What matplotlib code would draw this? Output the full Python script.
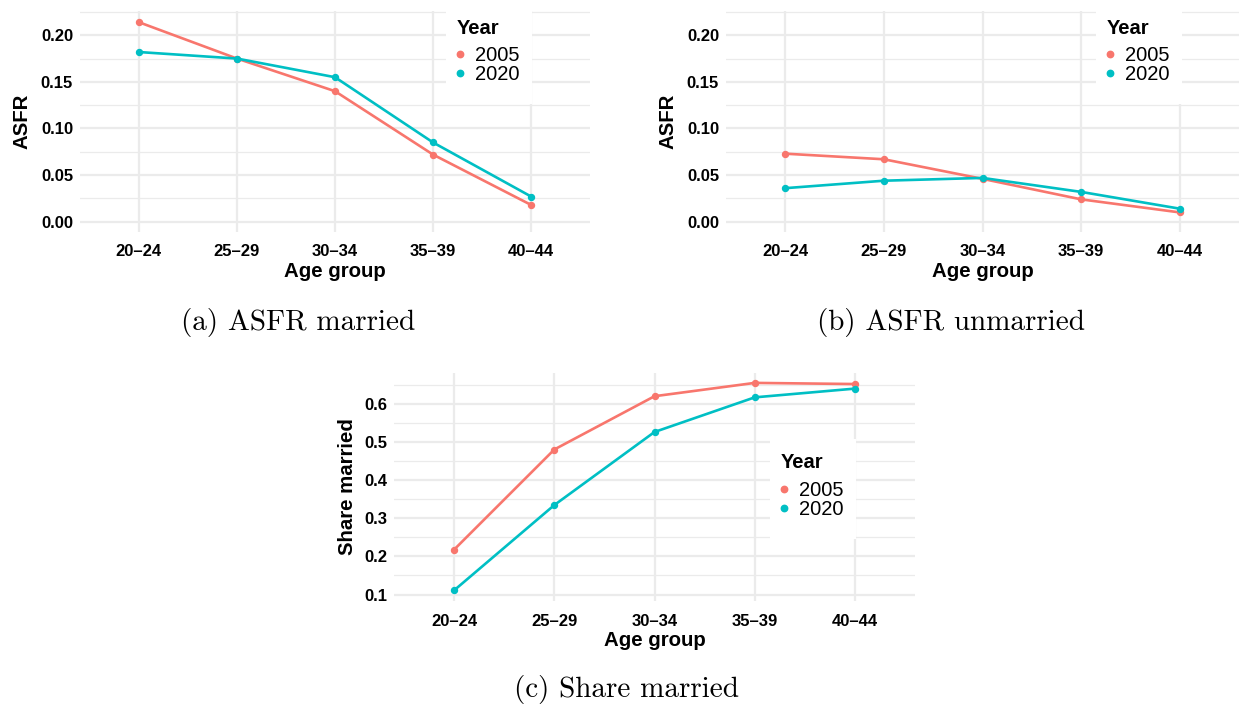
import matplotlib
matplotlib.use("Agg")
import matplotlib.pyplot as plt
from matplotlib.lines import Line2D
from matplotlib.patches import Rectangle
from matplotlib.ticker import MultipleLocator, FormatStrFormatter

age_groups = ["20–24", "25–29", "30–34", "35–39", "40–44"]
years = ["2005", "2020"]

asfr_married_2005 = [0.214, 0.175, 0.140, 0.072, 0.018]
asfr_married_2020 = [0.182, 0.175, 0.155, 0.085, 0.027]
asfr_unmarried_2005 = [0.073, 0.067, 0.046, 0.024, 0.010]
asfr_unmarried_2020 = [0.036, 0.044, 0.047, 0.032, 0.014]
share_married_2005 = [0.218, 0.481, 0.621, 0.656, 0.653]
share_married_2020 = [0.111, 0.335, 0.527, 0.618, 0.641]

colors = {"2005": "#F8766D", "2020": "#00BFC4"}
grid_col = "#EBEBEB"

plt.rcParams["font.family"] = ["Liberation Sans", "DejaVu Sans"]

W, H = 1239, 711
fig = plt.figure(figsize=(W / 100, H / 100), dpi=100)


def fx(px):
    return px / W


def fy(py):
    return 1 - py / H


def px_axes(left, top, right, bottom):
    # pixel box -> figure fraction
    return fig.add_axes([fx(left), fy(bottom), (right - left) / W, (bottom - top) / H])


def panel(ax, s2005, s2020, ylabel, ylim, major, minor, fmt, leg, ylabpad):
    x = list(range(1, len(age_groups) + 1))
    for yr, vals in zip(years, [s2005, s2020]):
        ax.plot(x, vals, color=colors[yr], lw=1.9, marker="o", ms=4.3, zorder=3)
    ax.set_xlim(0.4, 5.6)
    ax.set_ylim(*ylim)
    ax.set_xticks(x)
    ax.set_xticklabels(age_groups)
    ax.yaxis.set_major_locator(MultipleLocator(major))
    ax.yaxis.set_minor_locator(MultipleLocator(minor))
    ax.yaxis.set_major_formatter(FormatStrFormatter(fmt))
    ax.grid(True, which="major", color=grid_col, lw=1.6, zorder=0)
    ax.grid(True, which="minor", axis="y", color=grid_col, lw=0.9, zorder=0)
    ax.set_axisbelow(True)
    for s in ax.spines.values():
        s.set_visible(False)
    ax.tick_params(which="both", length=0)
    ax.tick_params(axis="y", pad=5)
    ax.tick_params(axis="x", pad=9)
    for lab in ax.get_xticklabels() + ax.get_yticklabels():
        lab.set_fontweight("bold")
        lab.set_fontsize(12)
        lab.set_color("black")
    ax.set_xlabel("Age group", fontsize=14.7, fontweight="bold", labelpad=2)
    ax.set_ylabel(ylabel, fontsize=14.7, fontweight="bold", labelpad=ylabpad)

    # legend: white box, bold title, point keys
    tl, tc = leg  # title left x, title centre y (pixels)
    ax.add_patch(Rectangle((fx(tl - 11), fy(tc + 78)), 86 / W, 100 / H,
                           transform=fig.transFigure, facecolor="white",
                           edgecolor="none", zorder=2, clip_on=False))
    fig.text(fx(tl), fy(tc), "Year", fontsize=14.5, fontweight="bold",
             ha="left", va="center_baseline")
    handles = [Line2D([], [], color=colors[yr], marker="o", ls="none", ms=4.6) for yr in years]
    lg = ax.legend(handles, years, loc="upper left",
                   bbox_to_anchor=(fx(tl - 1), fy(tc + 20)),
                   bbox_transform=fig.transFigure, frameon=False,
                   fontsize=14.5, handlelength=0.4, handletextpad=0.55,
                   labelspacing=0.0, borderpad=0, borderaxespad=0)
    lg.set_zorder(5)


ax1 = px_axes(80, 11, 590, 232)
panel(ax1, asfr_married_2005, asfr_married_2020, "ASFR", (-0.011, 0.226),
      0.05, 0.025, "%.2f", (457, 26), 7)

ax2 = px_axes(726, 11, 1239, 232)
panel(ax2, asfr_unmarried_2005, asfr_unmarried_2020, "ASFR", (-0.011, 0.226),
      0.05, 0.025, "%.2f", (1107, 26), 7)

ax3 = px_axes(394, 373, 915, 601)
panel(ax3, share_married_2005, share_married_2020, "Share married", (0.083, 0.682),
      0.1, 0.05, "%.1f", (781, 461), 5)

cap = dict(family="cmr10", fontsize=21, ha="center", va="center")
fig.text(fx(298), fy(323), "(a) ASFR married", **cap)
fig.text(fx(951), fy(323), "(b) ASFR unmarried", **cap)
fig.text(fx(626), fy(690), "(c) Share married", **cap)

fig.savefig("out.png", dpi=100)
